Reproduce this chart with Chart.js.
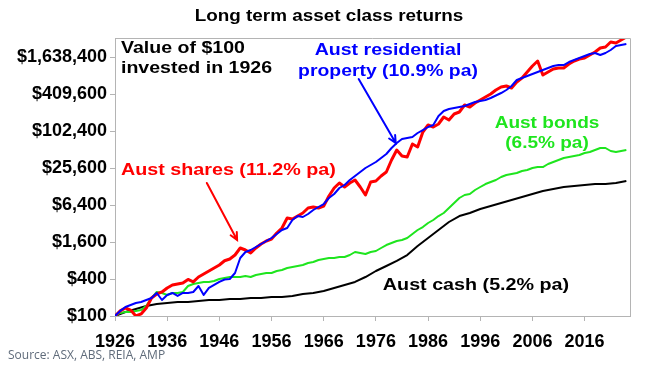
<!DOCTYPE html>
<html>
<head>
<meta charset="utf-8">
<script src="https://cdn.jsdelivr.net/npm/chart.js@4.4.1/dist/chart.umd.min.js"></script>
<style>
  html, body { margin:0; padding:0; background:#fff; }
  #wrap { width:656px; height:373px; }
</style>
</head>
<body>
<div id="wrap"><canvas id="chart" width="656" height="373"></canvas></div>
<script>
// ---- data (value of $100 invested in 1926) ----
const years = [
  1926,1927,1928,1929,1930,1931,1932,1933,1934,1935,1936,1937,1938,1939,1940,1941,1942,1943,1944,1945,
  1946,1947,1948,1949,1950,1951,1952,1953,1954,1955,1956,1957,1958,1959,1960,1961,1962,1963,1964,1965,
  1966,1967,1968,1969,1970,1971,1972,1973,1974,1975,1976,1977,1978,1979,1980,1981,1982,1983,1984,1985,
  1986,1987,1988,1989,1990,1991,1992,1993,1994,1995,1996,1997,1998,1999,2000,2001,2002,2003,2004,2005,
  2006,2007,2008,2009,2010,2011,2012,2013,2014,2015,2016,2017,2018,2019,2020,2021,2022,2023,2024
];
const shares = [
  100,121,135,125,100,108,135,196,228,246,286,320,332,344,393,358,431,482,540,604,
  676,792,846,983,1278,1186,1059,1278,1485,1661,1790,2242,2704,3933,3789,4237,4742,5715,5939,5715,
  6163,8966,12102,14592,12563,14592,16333,12563,9312,15155,15731,18970,22042,34534,50253,40141,38656,62925,56218,98611,
  128205,118989,133120,173056,154624,193638,208691,271155,251699,292454,327270,365773,409600,475955,532480,552550,512819,642253,745882,933888,
  1169818,1410662,834765,933888,1045299,1084621,1084621,1259930,1410662,1520435,1577779,1766195,1975910,2295398,2383872,2873754,2768896,3098214,3466854
];
const property = [
  100,121,140,151,163,169,182,196,237,182,220,237,212,237,237,246,308,220,286,320,
  358,393,400,501,878,1100,1186,1327,1485,1661,1859,2158,2509,2704,3648,4237,4083,4570,5306,5939,
  6643,8320,9664,12102,13542,16333,18970,22042,25600,28646,32051,37248,43264,54170,65331,75878,78746,81818,95027,106291,
  118989,128205,179610,216678,233472,242483,251699,261325,281600,303514,314982,327270,352666,387277,425165,475955,552550,692224,745882,804045,
  866714,933888,1006797,1084621,1169818,1214054,1214054,1358234,1463091,1577779,1700659,1833370,1903821,1766195,1903821,2129920,2473984,2569011,2667315
];
const bonds = [
  100,112,116,116,121,125,146,196,246,237,220,237,237,246,308,332,344,358,358,371,
  400,415,431,431,431,448,431,465,482,501,501,540,560,604,627,651,676,728,756,815,
  846,878,878,912,912,983,1100,1059,1021,1100,1142,1278,1429,1541,1661,1725,1859,2158,2509,2806,
  3261,3648,4237,4742,5715,6899,8320,9312,9664,11226,12563,14054,15155,16333,18278,19686,20454,21222,22861,23757,
  25600,26573,26573,29747,32051,34534,37248,38656,40141,41677,44902,46618,50253,54170,54170,48410,46618,48410,50253
];
const cashYears = [
  1926,1928,1930,1932,1934,1936,1938,1940,1942,1944,1946,1948,1950,1952,1954,1956,1958,1960,1962,1964,
  1966,1968,1970,1972,1974,1976,1978,1980,1982,1984,1986,1988,1990,1992,1994,1996,1998,2000,2002,2004,
  2006,2008,2010,2012,2014,2016,2018,2020,2022,2024
];
const cash = [
  100,116,130,146,157,163,169,169,175,182,182,189,189,196,196,204,204,212,228,237,
  255,286,320,358,431,540,651,792,983,1378,1859,2509,3386,4237,4742,5510,6163,6899,7718,8634,
  9664,10816,11654,12563,13043,13542,14054,14054,14592,15731
];
const xTicks = [1926,1936,1946,1956,1966,1976,1986,1996,2006,2016];
const yTicks = [100,400,1600,6400,25600,102400,409600,1638400];

const FONT = '"Liberation Sans", Arial, sans-serif';
const AXIS = '#b4b4b4';
const RED = '#ff0000', BLUE = '#0000ff', GREEN = '#1ee51e', BLACK = '#000000';

function pts(xs, vs) { return xs.map((x, i) => ({ x: x, y: vs[i] })); }

// text drawn a little wider than the font, like the original picture
function wideText(ctx, txt, x, y, sx) {
  ctx.save();
  ctx.translate(x, y);
  ctx.scale(sx, 1);
  ctx.fillText(txt, 0, 0);
  ctx.restore();
}

function arrow(ctx, x1, y1, x2, y2, color) {
  const a = Math.atan2(y2 - y1, x2 - x1), h = 8;
  ctx.save();
  ctx.strokeStyle = color; ctx.lineWidth = 2; ctx.lineCap = 'round';
  ctx.beginPath();
  ctx.moveTo(x1, y1); ctx.lineTo(x2, y2);
  ctx.moveTo(x2 - h * Math.cos(a - 0.45), y2 - h * Math.sin(a - 0.45));
  ctx.lineTo(x2, y2);
  ctx.lineTo(x2 - h * Math.cos(a + 0.45), y2 - h * Math.sin(a + 0.45));
  ctx.stroke();
  ctx.restore();
}

// title, source, frame, labels and arrows
const notes = {
  id: 'notes',
  afterDatasetsDraw(chart) {
    const { ctx, chartArea: a, scales: { x, y } } = chart;
    ctx.save();
    ctx.strokeStyle = AXIS; ctx.lineWidth = 1;
    ctx.beginPath();
    ctx.moveTo(a.left, a.top + 0.5); ctx.lineTo(a.right + 0.5, a.top + 0.5); ctx.lineTo(a.right + 0.5, a.bottom);
    ctx.stroke();

    ctx.fillStyle = '#000';
    ctx.font = 'bold 16px ' + FONT;
    ctx.textAlign = 'center'; ctx.textBaseline = 'middle';
    wideText(ctx, 'Long term asset class returns', 329, 17, 1.18);

    ctx.font = '12px "Open Sans", sans-serif';
    ctx.fillStyle = '#5f6b7a';
    ctx.textAlign = 'left';
    ctx.fillText('Source: ASX, ABS, REIA, AMP', 8, 356);

    ctx.font = 'bold 17px ' + FONT;
    ctx.fillStyle = '#000';
    wideText(ctx, 'Value of $100', 121, 48, 1.15);
    wideText(ctx, 'invested in 1926', 121, 68, 1.15);

    ctx.fillStyle = RED;
    wideText(ctx, 'Aust shares (11.2% pa)', 121, 170, 1.16);

    ctx.textAlign = 'center';
    ctx.fillStyle = BLUE;
    wideText(ctx, 'Aust residential', 388, 50, 1.15);
    wideText(ctx, 'property (10.9% pa)', 388, 71, 1.14);

    ctx.fillStyle = GREEN;
    wideText(ctx, 'Aust bonds', 547, 123, 1.12);
    wideText(ctx, '(6.5% pa)', 547, 143, 1.12);

    ctx.fillStyle = '#000';
    wideText(ctx, 'Aust cash (5.2% pa)', 476, 285, 1.16);
    ctx.restore();

    arrow(ctx, x.getPixelForValue(1943.6), y.getPixelForValue(14600), x.getPixelForValue(1949.4), y.getPixelForValue(1725), RED);
    arrow(ctx, x.getPixelForValue(1972.7), y.getPixelForValue(718000), x.getPixelForValue(1979.8), y.getPixelForValue(65300), BLUE);
  }
};

const line = (label, data, color, width, order) => ({
  label, data, borderColor: color, backgroundColor: color, borderWidth: width,
  pointRadius: 0, tension: 0, fill: false, order, borderJoinStyle: 'round'
});

new Chart(document.getElementById('chart'), {
  type: 'line',
  data: {
    datasets: [
      line('Aust residential property', pts(years, property), BLUE, 2, 0),
      line('Aust shares', pts(years, shares), RED, 3, 1),
      line('Aust bonds', pts(years, bonds), GREEN, 2, 2),
      line('Aust cash', pts(cashYears, cash), BLACK, 2, 3)
    ]
  },
  options: {
    responsive: false, animation: false, devicePixelRatio: 1,
    layout: { padding: { top: 38, right: 26, left: 0, bottom: 0 } },
    plugins: { legend: { display: false }, title: { display: false }, tooltip: { enabled: false } },
    scales: {
      x: {
        type: 'linear', min: 1926, max: 2024.7,
        afterBuildTicks: s => { s.ticks = xTicks.map(v => ({ value: v })); },
        afterFit: s => { s.height = 57; },
        grid: { drawOnChartArea: false, drawTicks: true, tickLength: 5, color: AXIS },
        border: { display: true, color: AXIS },
        ticks: { autoSkip: false, maxRotation: 0, color: '#000', padding: 10,
                 font: { family: FONT, size: 18, weight: 'bold' }, callback: v => String(v) }
      },
      y: {
        type: 'logarithmic', min: 100, max: 3340000,
        afterBuildTicks: s => { s.ticks = yTicks.map(v => ({ value: v })); },
        afterFit: s => { s.width = 115; },
        grid: { drawOnChartArea: false, drawTicks: true, tickLength: 5, color: AXIS },
        border: { display: true, color: AXIS },
        ticks: { autoSkip: false, color: '#000', padding: 3,
                 font: { family: FONT, size: 18, weight: 'bold' },
                 callback: v => '$' + Number(v).toLocaleString('en-US') }
      }
    }
  },
  plugins: [notes]
});
</script>
</body>
</html>
